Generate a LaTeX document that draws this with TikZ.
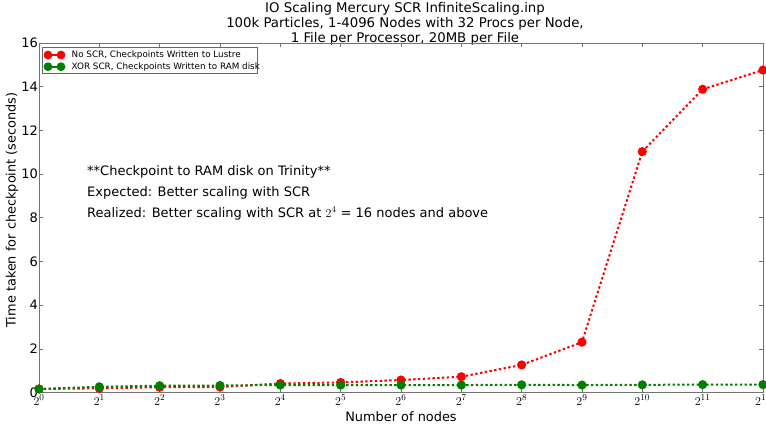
\documentclass[tikz,border=0pt]{standalone}
\usepackage{fontspec}
\setmainfont{DejaVu Sans}
\begin{document}
\begin{tikzpicture}[x=1pt,y=1pt,
  spine/.style={draw=black!55, line width=0.8pt},
  tickmark/.style={draw=black!55, line width=0.8pt},
  ticklab/.style={font=\fontsize{13}{15}\selectfont, inner sep=1pt},
  axlab/.style={font=\fontsize{12.9}{15}\selectfont},
  titlelab/.style={font=\fontsize{13.3}{15}\selectfont},
  leglab/.style={font=\fontsize{8.8}{10}\selectfont, anchor=west, inner sep=0pt},
  notelab/.style={font=\fontsize{13}{15}\selectfont, anchor=west, inner sep=0pt},
  redline/.style={red, line width=2pt, dash pattern=on 2.4pt off 2.4pt},
  greenline/.style={green!50!black, line width=2pt, dash pattern=on 2.4pt off 2.4pt},
  redmark/.style={fill=red},
  greenmark/.style={fill=green!50!black}]
\clip (0,0) rectangle (766,428);
\fill[white] (0,0) rectangle (766,428);
% title
\node[titlelab] (t1) at (405,419.3) {IO Scaling Mercury SCR InfiniteScaling.inp};
\node[titlelab] (t2) at (405,404.3) {100k Particles, 1-4096 Nodes with 32 Procs per Node,};
\node[titlelab] (t3) at (405,389.3) {1 File per Processor, 20MB per File};
% axis labels
\node[axlab, rotate=90] (ylab) at (12,218) {Time taken for checkpoint (seconds)};
\node[axlab] (xlab) at (401,11.5) {Number of nodes};
\begin{scope}[shift={(39,35.3)}, x=60.33pt, y=21.86pt]
  % ticks
  \foreach \n in {0,...,12} {
    \draw[tickmark] (\n,0) -- ++(0,4pt);
    \draw[tickmark] (\n,16) -- ++(0,-4pt);
    \node[ticklab, anchor=north] (xt\n) at (\n,-1pt) {$2^{\n}$};
  }
  \foreach \v in {0,2,...,16} {
    \draw[tickmark] (0,\v) -- ++(4pt,0);
    \draw[tickmark] (12,\v) -- ++(-4pt,0);
    \node[ticklab, anchor=east] (yt\v) at (0,\v) {\v};
  }
  \draw[spine] (0,0) rectangle (12,16);
  % data
  \foreach \v [count=\i from 0] in {0.17,0.20,0.25,0.26,0.42,0.47,0.58,0.73,1.27,2.31,11.03,13.88,14.76} {
    \coordinate (r\i) at (\i,\v);
  }
  \foreach \v [count=\i from 0] in {0.17,0.27,0.32,0.33,0.35,0.35,0.35,0.35,0.36,0.35,0.36,0.37,0.37} {
    \coordinate (g\i) at (\i,\v);
  }
  \draw[redline] (r0) \foreach \i in {1,...,12} { -- (r\i) };
  \foreach \i in {0,...,12} { \fill[redmark] (r\i) circle (4.6pt); }
  \draw[greenline] (g0) \foreach \i in {1,...,12} { -- (g\i) };
  \foreach \i in {0,...,12} { \fill[greenmark] (g\i) circle (4.6pt); }
\end{scope}
% legend
\draw[draw=black!60, line width=0.6pt, fill=white] (42.7,354.7) rectangle (257.7,380.7);
\coordinate (la1) at (48,373); \coordinate (lb1) at (61,373);
\coordinate (la2) at (48,361.3); \coordinate (lb2) at (61,361.3);
\draw[red, line width=2pt] (la1) -- (lb1);
\fill[redmark] (la1) circle (4.4pt); \fill[redmark] (lb1) circle (4.4pt);
\draw[green!50!black, line width=2pt] (la2) -- (lb2);
\fill[greenmark] (la2) circle (4.4pt); \fill[greenmark] (lb2) circle (4.4pt);
\node[leglab] (l1) at (71.5,373) {No SCR, Checkpoints Written to Lustre};
\node[leglab] (l2) at (71.5,361.3) {XOR SCR, Checkpoints Written to RAM disk};
% annotation
\node[notelab] (n1) at (87,256.3) {**Checkpoint to RAM disk on Trinity**};
\node[notelab] (n2) at (87,235.3) {Expected: Better scaling with SCR};
\node[notelab] (n3) at (87,214.7) {Realized: Better scaling with SCR at $2^4$ = 16 nodes and above};
\end{tikzpicture}
\end{document}
